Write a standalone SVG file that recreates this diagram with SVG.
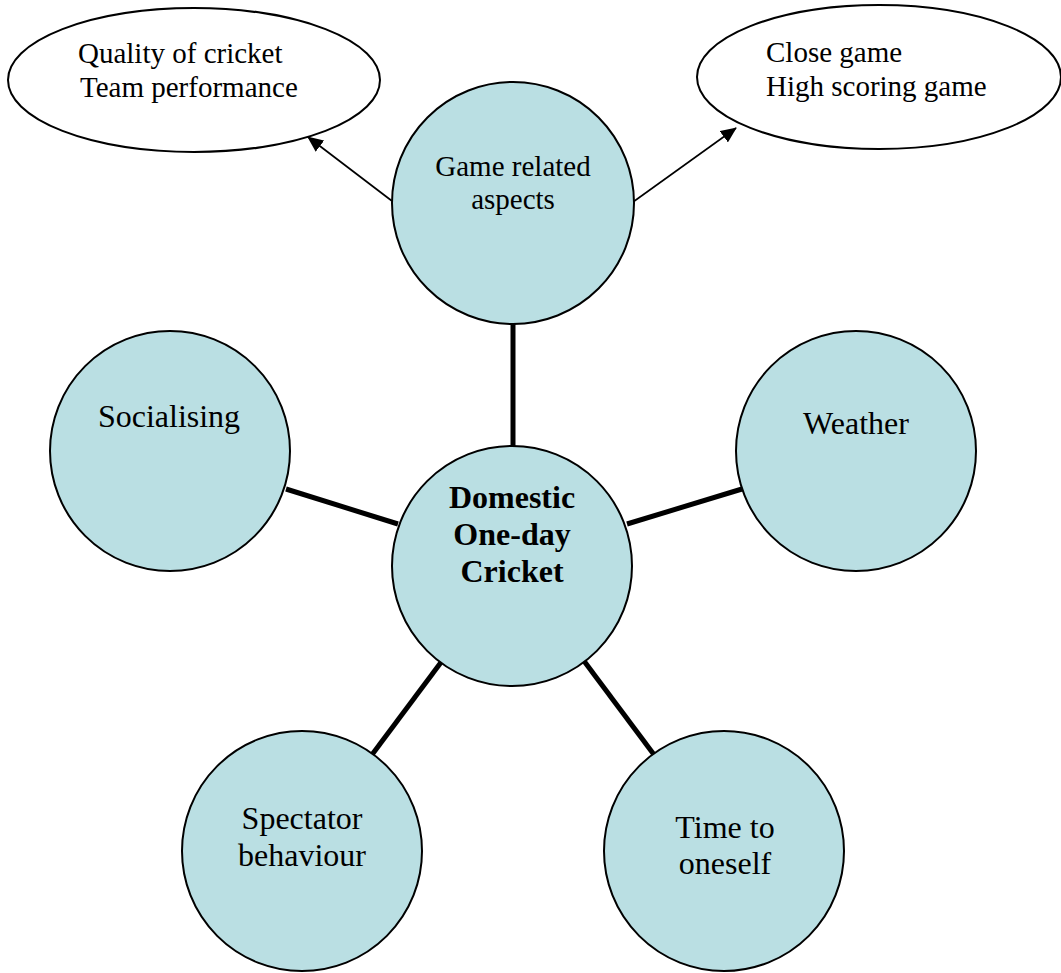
<svg xmlns="http://www.w3.org/2000/svg" width="1061" height="973" viewBox="0 0 1061 973">
<style>
.c{fill:#badfe3;stroke:#000;stroke-width:2}
.e{fill:#fff;stroke:#000;stroke-width:2}
.t{font-family:"Liberation Serif","Times New Roman",serif;font-size:32px;fill:#000}
.s{font-size:29px}
.m{text-anchor:middle}
.b{font-weight:bold}
.k{stroke:#000;stroke-width:5;fill:none}
.a{stroke:#000;stroke-width:1.6;fill:none;marker-end:url(#ah)}
</style>
<defs>
<marker id="ah" markerWidth="16" markerHeight="14" refX="15" refY="7" orient="auto" markerUnits="userSpaceOnUse">
<path d="M0,0 L16,7 L0,14 Z" fill="#000"/>
</marker>
</defs>
<rect width="1061" height="973" fill="#fff"/>
<g id="connectors">
<line class="k" x1="513" y1="324" x2="513" y2="447"/>
<line class="k" x1="286" y1="489" x2="398" y2="524"/>
<line class="k" x1="742" y1="489" x2="627" y2="524"/>
<line class="k" x1="371" y1="756" x2="442" y2="661"/>
<line class="k" x1="655" y1="756" x2="584" y2="661"/>
<line class="a" x1="392" y1="201" x2="308" y2="137"/>
<line class="a" x1="633" y1="202" x2="736" y2="128"/>
</g>
<g id="quality">
<ellipse class="e" cx="194" cy="80" rx="186" ry="72"/>
<text class="t s" x="78" y="63">Quality of cricket</text>
<text class="t s" x="80" y="97">Team performance</text>
</g>
<g id="close">
<ellipse class="e" cx="879" cy="77" rx="182" ry="72"/>
<text class="t s" x="766" y="62">Close game</text>
<text class="t s" x="766" y="96">High scoring game</text>
</g>
<g id="game">
<circle class="c" cx="513" cy="203" r="121"/>
<text class="t s m" x="513" y="176">Game related</text>
<text class="t s m" x="513" y="209">aspects</text>
</g>
<g id="center">
<circle class="c" cx="512" cy="566" r="120"/>
<text class="t m b" x="512" y="508">Domestic</text>
<text class="t m b" x="512" y="545">One-day</text>
<text class="t m b" x="512" y="582">Cricket</text>
</g>
<g id="socialising">
<circle class="c" cx="170" cy="451" r="120"/>
<text class="t m" x="169" y="427">Socialising</text>
</g>
<g id="weather">
<circle class="c" cx="856" cy="451" r="120"/>
<text class="t m" x="856" y="434">Weather</text>
</g>
<g id="spectator">
<circle class="c" cx="302" cy="851" r="120"/>
<text class="t m" x="302" y="829">Spectator</text>
<text class="t m" x="302" y="866">behaviour</text>
</g>
<g id="time">
<circle class="c" cx="724" cy="851" r="120"/>
<text class="t m" x="725" y="838">Time to</text>
<text class="t m" x="725" y="874">oneself</text>
</g>
</svg>
